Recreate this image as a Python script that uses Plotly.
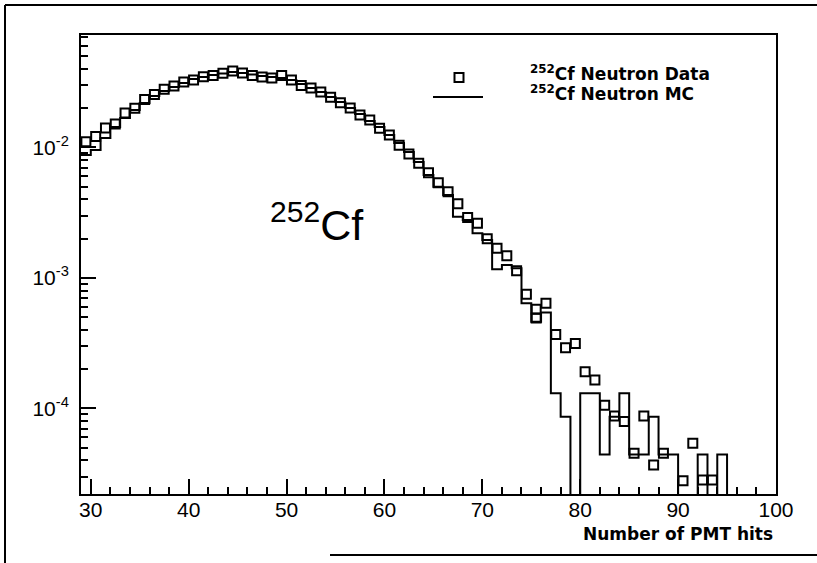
import plotly.graph_objects as go

# ---------------- data ----------------
# 252Cf neutron data: bin centres (Number of PMT hits) and normalised counts
data_x = [29.5, 30.5, 31.5, 32.5, 33.5, 34.5, 35.5, 36.5, 37.5, 38.5,
          39.5, 40.5, 41.5, 42.5, 43.5, 44.5, 45.5, 46.5, 47.5, 48.5,
          49.5, 50.5, 51.5, 52.5, 53.5, 54.5, 55.5, 56.5, 57.5, 58.5,
          59.5, 60.5, 61.5, 62.5, 63.5, 64.5, 65.5, 66.5, 67.5, 68.5,
          69.5, 70.5, 71.5, 72.5, 73.5, 74.5, 75.5, 75.5, 76.5, 77.5,
          78.5, 79.5, 80.5, 81.5, 82.5, 83.5, 84.5, 85.5, 86.5, 87.5,
          88.5, 90.5, 91.5, 92.5, 93.5]
data_y = [0.01104, 0.01211, 0.01406, 0.01509, 0.01832, 0.01990, 0.02323, 0.02537, 0.02781, 0.02947,
          0.03162, 0.03277, 0.03473, 0.03548, 0.03688, 0.03840, 0.03707, 0.03548, 0.03455, 0.03395,
          0.03548, 0.03277, 0.02973, 0.02845, 0.02652, 0.02415, 0.02196, 0.02000, 0.01768, 0.01619,
          0.01398, 0.01243, 0.01036, 0.00889, 0.00754, 0.00639, 0.00536, 0.00457, 0.00369, 0.00290,
          0.00262, 0.00199, 0.00169, 0.00148, 0.001133, 0.000749, 0.000575, 0.000493, 0.000639, 0.000369,
          0.000292, 0.000314, 0.000191, 0.000165, 0.0001058, 0.0000876, 0.0000793, 0.0000454, 0.0000876, 0.0000369,
          0.0000454, 0.0000279, 0.0000541, 0.0000283, 0.0000283]

# 252Cf neutron MC histogram: lower bin edges (width 1) and contents
mc_bin_lo = [29, 30, 31, 32, 33, 34, 35, 36, 37, 38, 39, 40, 41, 42, 43, 44,
             45, 46, 47, 48, 49, 50, 51, 52, 53, 54, 55, 56, 57, 58, 59, 60,
             61, 62, 63, 64, 65, 66, 67, 68, 69, 70, 71, 72, 73, 74, 75, 76,
             77, 78, 79, 80, 81, 82, 83, 84, 85, 86, 87, 88, 89, 90, 91, 92,
             93, 94]
mc_bin_hi_last = 95
mc_y = [0.00873, 0.00954, 0.01178, 0.01431, 0.01677, 0.01930, 0.02184, 0.02471,
        0.02699, 0.02895, 0.03109, 0.03335, 0.03455, 0.03579, 0.03674, 0.03772,
        0.03707, 0.03611, 0.03517, 0.03455, 0.03395, 0.03277, 0.03054, 0.02845,
        0.02652, 0.02428, 0.02223, 0.02000, 0.01800, 0.01590, 0.01431, 0.01243,
        0.01079, 0.00921, 0.00772, 0.00614, 0.00499, 0.00431, 0.00294, 0.00278,
        0.00220, 0.00195, 0.001164, 0.001256, 0.001185, 0.000639, 0.000462, 0.000542,
        0.000131, 0.0000866, 0.0, 0.000131, 0.000131, 0.0000445, 0.0000866, 0.000131,
        0.0000445, 0.0000445, 0.0000866, 0.0000445, 0.0000445, 0.0, 0.0, 0.0000445,
        0.0, 0.0000445]

x_tick_vals = [30, 40, 50, 60, 70, 80, 90, 100]
y_tick_vals = [1e-4, 1e-3, 1e-2]
y_tick_text = ["10<sup>-4</sup>", "10<sup>-3</sup>", "10<sup>-2</sup>"]

legend_names = ["<sup>252</sup>Cf Neutron Data", "<sup>252</sup>Cf Neutron MC"]
big_label = "<sup>252</sup>Cf"
x_title = "Number of PMT hits"

# ---------------- build figure ----------------
FLOOR = 1e-8  # empty bins drop below the axis
mc_x_plot = mc_bin_lo + [mc_bin_hi_last, mc_bin_hi_last]
mc_y_plot = [v if v > 0 else FLOOR for v in mc_y] + [mc_y[-1] if mc_y[-1] > 0 else FLOOR, FLOOR]

fig = go.Figure()
fig.add_trace(go.Scatter(
    x=mc_x_plot, y=mc_y_plot, mode="lines", line_shape="hv",
    line=dict(color="black", width=2), name=legend_names[1], showlegend=False))
fig.add_trace(go.Scatter(
    x=data_x, y=data_y, mode="markers",
    marker=dict(symbol="square-open", size=9, color="black", line=dict(width=2, color="black")),
    name=legend_names[0], showlegend=False))

W, H = 817, 563
L, R, T, B = 81, 41, 35, 69
pw, ph = W - L - R, H - T - B

def px(xpix):
    return (xpix - L) / pw

def py(ypix):
    return (H - B - ypix) / ph

tick_font = dict(family="Liberation Sans, Arial, sans-serif", size=21, color="black")
bold_font = dict(family="DejaVu Sans, sans-serif", size=17, color="black", weight="bold")

fig.update_layout(
    width=W, height=H, autosize=False,
    margin=dict(l=L, r=R, t=T, b=B, pad=0),
    paper_bgcolor="white", plot_bgcolor="white",
    showlegend=False,
    xaxis=dict(range=[29, 100], tickvals=x_tick_vals, ticks="inside", ticklen=15, tickwidth=2,
               tickcolor="black", showline=True, linewidth=2, linecolor="black", mirror=True,
               showgrid=False, zeroline=False, tickfont=tick_font, ticklabelstandoff=-4,
               minor=dict(dtick=2, ticks="inside", ticklen=7, tickwidth=2, tickcolor="black", showgrid=False)),
    yaxis=dict(type="log", range=[-4.655, -1.14], tickvals=y_tick_vals, ticktext=y_tick_text,
               ticks="inside", ticklen=15, tickwidth=2, tickcolor="black",
               showline=True, linewidth=2, linecolor="black", mirror=True,
               showgrid=False, zeroline=False, tickfont=tick_font, ticklabelstandoff=6,
               minor=dict(dtick="D1", ticks="inside", ticklen=7, tickwidth=2, tickcolor="black", showgrid=False)),
)

annotations = [
    dict(text=big_label, x=px(268), y=py(222), xref="paper", yref="paper", xanchor="left",
         yanchor="middle", showarrow=False,
         font=dict(family="Liberation Sans, Arial, sans-serif", size=43, color="black")),
    dict(text=legend_names[0], x=px(528), y=py(73), xref="paper", yref="paper", xanchor="left",
         yanchor="middle", showarrow=False, font=bold_font),
    dict(text=legend_names[1], x=px(528), y=py(93), xref="paper", yref="paper", xanchor="left",
         yanchor="middle", showarrow=False, font=bold_font),
    dict(text=x_title, x=px(775), y=py(534), xref="paper", yref="paper", xanchor="right",
         yanchor="middle", showarrow=False, font=bold_font),
]
fig.update_layout(annotations=annotations)

shapes = [
    # legend symbols
    dict(type="rect", xref="paper", yref="paper", x0=px(454.5), x1=px(463.5), y0=py(82), y1=py(73),
         line=dict(color="black", width=2), fillcolor="rgba(0,0,0,0)"),
    dict(type="line", xref="paper", yref="paper", x0=px(433), x1=px(483), y0=py(97), y1=py(97),
         line=dict(color="black", width=2)),
    # outer frame (scanned page border)
    dict(type="line", xref="paper", yref="paper", x0=px(5), x1=px(5), y0=py(5), y1=py(563),
         line=dict(color="black", width=2)),
    dict(type="line", xref="paper", yref="paper", x0=px(5), x1=px(817), y0=py(5), y1=py(5),
         line=dict(color="black", width=2)),
    dict(type="line", xref="paper", yref="paper", x0=px(330), x1=px(817), y0=py(555), y1=py(555),
         line=dict(color="black", width=2)),
]
fig.update_layout(shapes=shapes)

fig.write_html("out.html")
